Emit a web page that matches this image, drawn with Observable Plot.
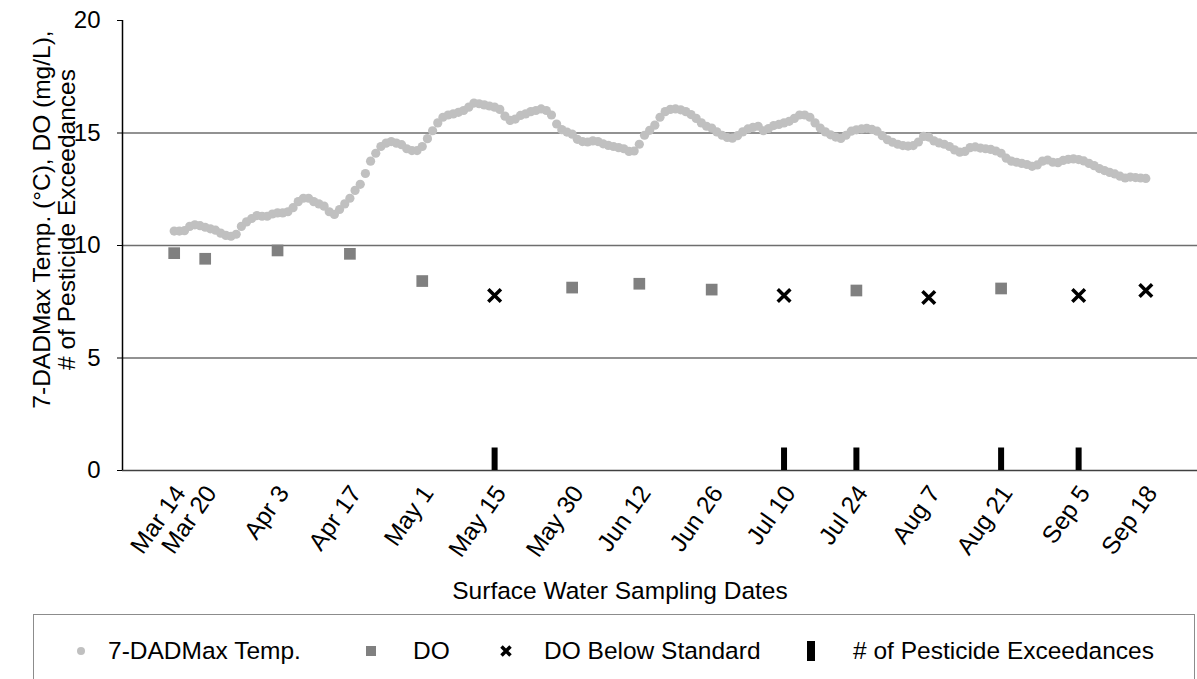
<!DOCTYPE html>
<html>
<head>
<meta charset="utf-8">
<script src="https://cdn.jsdelivr.net/npm/d3@7"></script>
<script src="https://cdn.jsdelivr.net/npm/@observablehq/plot@0.6"></script>
<style>
  body { margin: 0; background: #fff; font-family: "Liberation Sans", Arial, sans-serif; }
  #wrap { position: relative; width: 1197px; height: 679px; overflow: hidden; background: #fff; }
  #chart { position: absolute; left: 0; top: 0; }
  #legend { position: absolute; left: 33px; top: 614px; width: 1162px; height: 90px; border: 1px solid #8c8c8c; box-sizing: border-box; }
  .lt { position: absolute; top: 21px; line-height: 30px; font-size: 24.5px; color: #000; white-space: nowrap; }
  .ls { position: absolute; }
</style>
</head>
<body>
<div id="wrap">
  <div id="chart"></div>
  <div id="legend"></div>
</div>
<script>
// ---------- data ----------
const sampleDates = ["2013-03-14","2013-03-20","2013-04-03","2013-04-17","2013-05-01","2013-05-15","2013-05-30","2013-06-12","2013-06-26","2013-07-10","2013-07-24","2013-08-07","2013-08-21","2013-09-05","2013-09-18"];
const sampleLabels = ["Mar 14","Mar 20","Apr 3","Apr 17","May 1","May 15","May 30","Jun 12","Jun 26","Jul 10","Jul 24","Aug 7","Aug 21","Sep 5","Sep 18"];
const doValues = [9.66, 9.41, 9.78, 9.63, 8.42, 7.78, 8.13, 8.3, 8.04, 7.78, 8.0, 7.69, 8.09, 7.78, 8.0];
const doBelowStandard = [false,false,false,false,false,true,false,false,false,true,false,true,false,true,true];
const pesticideExceedances = [0,0,0,0,0,1,0,0,0,1,1,0,1,1,0];

// 7-day average daily maximum temperature, one value per day starting Mar 14
const tempStart = "2013-03-14";
const tempValues = [
  10.64,10.64,10.66,10.85,10.92,10.88,10.81,10.74,10.68,10.55,
  10.45,10.41,10.5,10.85,11.05,11.2,11.33,11.3,11.3,11.4,
  11.45,11.45,11.5,11.68,11.95,12.1,12.1,11.95,11.85,11.75,
  11.5,11.38,11.6,11.85,12.1,12.45,12.72,13.2,13.75,14.1,
  14.4,14.55,14.62,14.55,14.48,14.3,14.22,14.22,14.4,14.75,
  15.1,15.45,15.7,15.8,15.85,15.92,16.0,16.15,16.33,16.3,
  16.25,16.2,16.15,16.05,15.75,15.56,15.62,15.78,15.85,15.95,
  16.0,16.07,16.0,15.8,15.4,15.15,15.04,14.95,14.72,14.62,
  14.6,14.65,14.62,14.52,14.45,14.4,14.35,14.3,14.18,14.2,
  14.5,14.9,15.12,15.35,15.7,15.95,16.05,16.07,16.03,15.95,
  15.82,15.65,15.45,15.3,15.22,15.05,14.9,14.8,14.77,14.88,
  15.05,15.18,15.25,15.3,15.1,15.2,15.33,15.38,15.45,15.52,
  15.65,15.8,15.8,15.7,15.45,15.22,15.05,14.92,14.82,14.76,
  14.9,15.08,15.14,15.18,15.21,15.16,15.08,14.88,14.7,14.59,
  14.5,14.44,14.42,14.44,14.6,14.85,14.82,14.65,14.56,14.5,
  14.4,14.25,14.15,14.18,14.35,14.38,14.33,14.3,14.27,14.2,
  14.1,13.88,13.75,13.7,13.65,13.6,13.52,13.58,13.75,13.8,
  13.7,13.68,13.78,13.83,13.85,13.82,13.76,13.65,13.55,13.42,
  13.33,13.25,13.18,13.08,13.0,13.04,13.02,13.0,12.98
];

const xDomain = ["2013-03-04","2013-09-28"];
const yTicks = [0, 5, 10, 15, 20];
const gridValues = [5, 10, 15];
const yLabel = "7-DADMax Temp. (°C), DO (mg/L),\n# of Pesticide Exceedances";
const xLabel = "Surface Water Sampling Dates";
const legendLabels = ["7-DADMax Temp.", "DO", "DO Below Standard", "# of Pesticide Exceedances"];

// ---------- build ----------
const parse = d3.utcParse("%Y-%m-%d");
const t0 = parse(tempStart);
const tempData = tempValues.map((v, i) => ({date: d3.utcDay.offset(t0, i), value: v}));
const samples = sampleDates.map((d, i) => ({
  date: parse(d), label: sampleLabels[i], doValue: doValues[i],
  below: doBelowStandard[i], pest: pesticideExceedances[i]
}));
const labelByTime = new Map(samples.map(s => [+s.date, s.label]));
const xd = xDomain.map(parse);
const FONT = "'Liberation Sans', Arial, sans-serif";

const chart = Plot.plot({
  width: 1197,
  height: 612,
  marginLeft: 122,
  marginRight: 0,
  marginTop: 20,
  marginBottom: 142,
  style: {fontFamily: FONT, fontSize: "24px", color: "#000", background: "#fff", overflow: "visible"},
  x: {type: "utc", domain: xd},
  y: {domain: [0, 20]},
  marks: [
    Plot.ruleY(gridValues, {stroke: "#6e6e6e", strokeWidth: 1.5}),
    Plot.ruleY([0], {stroke: "#404040", strokeWidth: 1.5}),
    Plot.ruleX([xd[0]], {y1: 0, y2: 20, stroke: "#000", strokeWidth: 1.5}),
    Plot.axisY({ticks: yTicks, tickSize: 5, tickPadding: 17, label: null, fontSize: 24, stroke: "#000"}),
    Plot.axisX({
      ticks: samples.map(s => s.date),
      tickFormat: d => labelByTime.get(+d),
      tickRotate: -55, tickSize: 0, tickPadding: 18, dx: 6,
      label: null, fontSize: 24.5
    }),
    Plot.ruleX(samples.filter(s => s.pest > 0), {x: "date", y1: 0, y2: "pest", stroke: "#000", strokeWidth: 6}),
    Plot.dot(tempData, {x: "date", y: "value", r: 4.6, fill: "#c0c0c0"}),
    Plot.dot(samples.filter(s => !s.below), {x: "date", y: "doValue", symbol: "square", r: 6.6, fill: "#808080"}),
    Plot.dot(samples.filter(s => s.below), {x: "date", y: "doValue", symbol: "times", r: 5.8, stroke: "#000", strokeWidth: 3.5}),
    Plot.text([yLabel], {frameAnchor: "left", textAnchor: "middle", dx: -68, dy: -26, rotate: -90, lineHeight: 1.0, fontSize: 24.5, fill: "#000"}),
    Plot.text([xLabel], {frameAnchor: "bottom", textAnchor: "middle", dx: -40, dy: 128, fontSize: 24.5, fill: "#000"})
  ]
});
document.getElementById("chart").appendChild(chart);

// ---------- legend ----------
const legend = document.getElementById("legend");
const swatches = [
  {cx: 47, svg: '<svg width="12" height="12"><circle cx="6" cy="6" r="4" fill="#c0c0c0"/></svg>', w: 12, tx: 74},
  {cx: 337, svg: '<svg width="12" height="12"><rect x="1" y="1" width="10" height="10" fill="#808080"/></svg>', w: 12, tx: 379},
  {cx: 472, svg: '<svg width="14" height="14"><path d="M2.5,2.5L11.5,11.5M11.5,2.5L2.5,11.5" stroke="#000" stroke-width="3.5"/></svg>', w: 14, tx: 510, h: 14},
  {cx: 777, svg: '<svg width="10" height="22"><rect x="1" y="1" width="8" height="20" fill="#000"/></svg>', w: 10, tx: 819, h: 22}
];
swatches.forEach((s, i) => {
  const sw = document.createElement("div");
  sw.className = "ls";
  const h = s.h || 12;
  sw.style.left = (s.cx - s.w / 2) + "px";
  sw.style.top = (36 - h / 2) + "px";
  sw.style.lineHeight = "0";
  sw.innerHTML = s.svg;
  legend.appendChild(sw);
  const t = document.createElement("div");
  t.className = "lt";
  t.style.left = s.tx + "px";
  t.textContent = legendLabels[i];
  legend.appendChild(t);
});
</script>
</body>
</html>
